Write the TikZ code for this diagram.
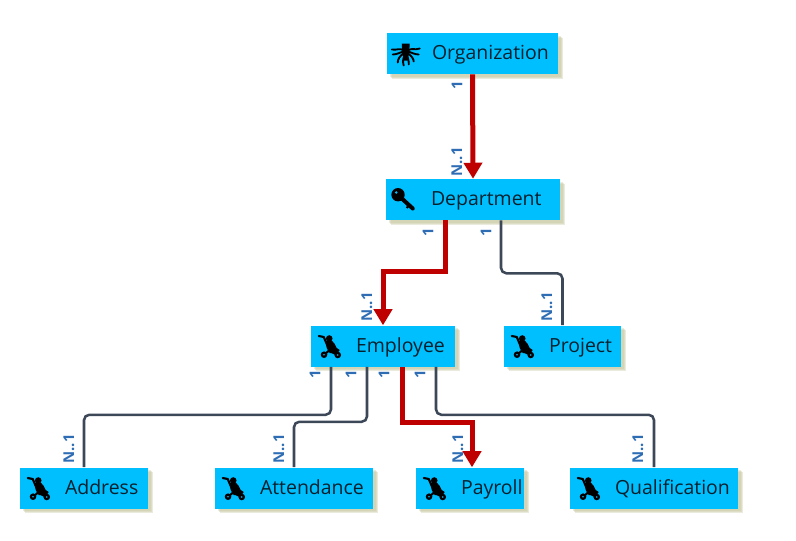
\documentclass[tikz,border=0pt]{standalone}
\usepackage{fontspec}
\setmainfont{Open Sans}
\usetikzlibrary{arrows.meta,calc,shadows}
\definecolor{boxblue}{HTML}{00BFFF}
\definecolor{keyred}{HTML}{BF0000}
\definecolor{linkgrey}{HTML}{3C4858}
\definecolor{cardblue}{HTML}{2E6DB4}
\definecolor{shadowtan}{HTML}{BDBD90}
\definecolor{inkdark}{HTML}{03202C}
\newcommand{\entitytext}[1]{\hspace*{30.4pt}\mbox{#1}}
\tikzset{
  softshadow/.style={drop shadow={shadow xshift=#1,shadow yshift=-#1,fill=shadowtan,opacity=.3}},
  entity/.style={softshadow=3.6pt,softshadow=2.8pt,softshadow=2pt,
    fill=boxblue,text=inkdark,font=\fontsize{14.6}{17}\selectfont,anchor=center,
    inner xsep=3.375pt,inner ysep=0pt,minimum height=30.75pt,align=left,text width=(#1-9)*0.75pt,
    text height=12.5pt,text depth=3.5pt},
  keylink/.style={draw=keyred,line width=3.75pt,-{Triangle[width=13.5pt,length=12pt]}},
  link/.style={draw=linkgrey,line width=1.9pt,rounded corners=4pt},
  card/.style={text=cardblue,font=\fontsize{11.2}{13}\selectfont\bfseries,rotate=90,inner sep=0pt},
  pics/rooticon/.style={code={
    \fill[black] (-4,-10) -- (4,-10) -- (3.5,-2) -- (2,7) -- (-2,7) -- (-3.5,-2) -- cycle;
    \draw[black,line width=1.4pt,line cap=round]
      (-2,-3) .. controls (-6,-6) and (-9,-3) .. (-14,-4)
      (2,-3) .. controls (6,-6) and (9,-3) .. (14,-5)
      (-2,-2) .. controls (-6,-1) and (-9,1) .. (-13,1)
      (2,-2) .. controls (6,-1) and (9,1) .. (13,1)
      (-2,0) .. controls (-6,2) and (-8,6) .. (-8,9)
      (2,0) .. controls (6,2) and (8,6) .. (8,8)
      (-1,2) .. controls (-3,5) and (-3,9) .. (-2,12)
      (1,2) .. controls (3,5) and (3,9) .. (3,11);
  }},
  pics/keyicon/.style={code={
    \fill[black] (-5.7,-4.8) circle (6.7);
    \draw[black,line width=3pt,line cap=round] (-3,-2) -- (9,9);
    \draw[black,line width=1.6pt] (5,6) -- (3,8.5);
    \fill[boxblue] (-7.5,-7) circle (1.3);
  }},
  pics/strollericon/.style={code={
    \draw[black,line width=1.6pt,line cap=round,line join=round]
      (-10,-10) -- (-5,-9) -- (1,5) -- (9,9) (1,4) -- (-4.7,8.7);
    \fill[black] (0.5,-7.5) circle (3.3);
    \fill[black] (-3,-5) -- (3,-5.5) -- (6,-2) -- (8,2) -- (11,4) -- (9,7) -- (1,7) -- (-2,2) -- cycle;
    \fill[black] (-4.7,8.7) circle (3.3) (9,9) circle (3.3);
    \fill[boxblue] (-4.7,8.7) circle (0.9) (9,9) circle (0.9);
  }}
}
\begin{document}
\begin{tikzpicture}[x=0.75pt,y=-0.75pt,line cap=butt]
\useasboundingbox (0,0) rectangle (796,540);
% boxes
\node[entity=171] (organization) at (472.5,53.5) {\entitytext{Organization}};
\node[entity=174] (department) at (473,199.5) {\entitytext{Department}};
\node[entity=144] (employee) at (383,346) {\entitytext{Employee}};
\node[entity=117] (project) at (562.5,346) {\entitytext{Project}};
\node[entity=128] (address) at (84,488) {\entitytext{Address}};
\node[entity=158] (attendance) at (294,488) {\entitytext{Attendance}};
\node[entity=108] (payroll) at (470,488) {\entitytext{Payroll}};
\node[entity=168] (qualification) at (654,488) {\entitytext{Qualification}};
% icons
\pic at ($(organization.west)+(19,0)$) {rooticon};
\pic at ($(department.west)+(18,0)$) {keyicon};
\foreach \name in {employee,project,address,attendance,payroll,qualification}
  \pic at ($(\name.west)+(18,0)$) {strollericon};
% connectors
\draw[link] ($(department.south)+(28,0)$) -- ++(0,53) -| (project.north);
\draw[link] ($(employee.south)+(-52,0)$) -- ++(0,48) -| (address.north);
\draw[link] ($(employee.south)+(-16,0)$) -- ++(0,55) -| (attendance.north);
\draw[link] ($(employee.south)+(53,0)$) -- ++(0,48) -| (qualification.north);
\draw[keylink] (organization.south) -- (department.north);
\draw[keylink] ($(department.south)+(-28,0)$) -- ++(0,51) -| (employee.north);
\draw[keylink] ($(employee.south)+(19,0)$) -- ++(0,56) -| ($(payroll.north)+(2,0)$);
% cardinalities
\node[card] (orgone) at (457,85) {1};
\node[card] (deptmany) at (457,162) {N..1};
\node[card] (deptone) at (428,232) {1};
\node[card] (deptonetwo) at (486,232) {1};
\node[card] (empmany) at (367,307) {N..1};
\node[card] (projmany) at (547,307) {N..1};
\node[card] (empone) at (315,374) {1};
\node[card] (emponetwo) at (351,374) {1};
\node[card] (emponethree) at (384,374) {1};
\node[card] (emponefour) at (420,374) {1};
\node[card] (addrmany) at (69,449) {N..1};
\node[card] (attmany) at (279,449) {N..1};
\node[card] (paymany) at (458,449) {N..1};
\node[card] (qualmany) at (638,449) {N..1};
\end{tikzpicture}
\end{document}
